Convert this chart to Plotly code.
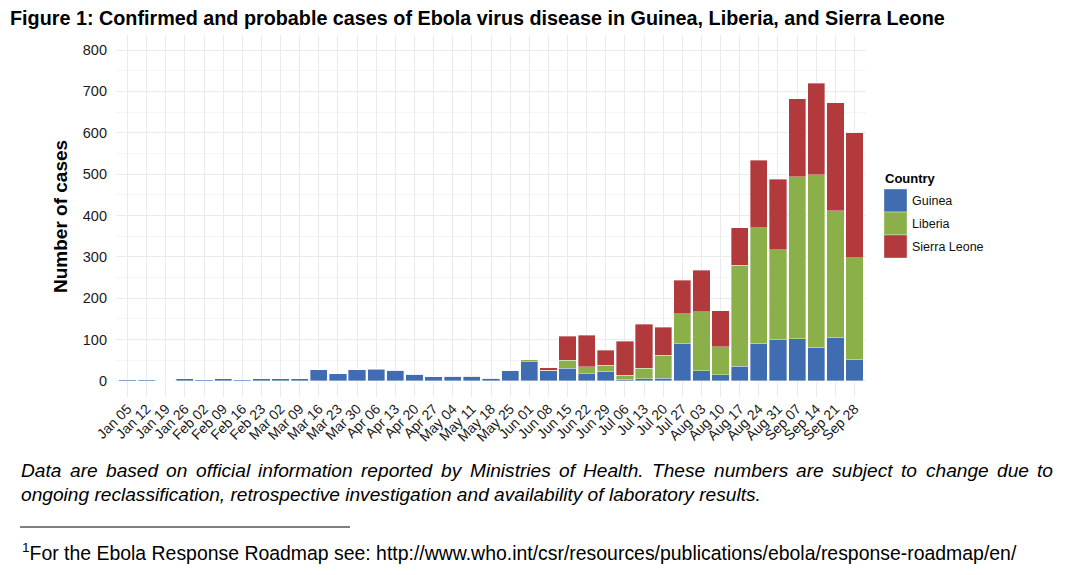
import plotly.graph_objects as go

weeks = ["Jan 05", "Jan 12", "Jan 19", "Jan 26", "Feb 02", "Feb 09", "Feb 16", "Feb 23",
         "Mar 02", "Mar 09", "Mar 16", "Mar 23", "Mar 30", "Apr 06", "Apr 13", "Apr 20",
         "Apr 27", "May 04", "May 11", "May 18", "May 25", "Jun 01", "Jun 08", "Jun 15",
         "Jun 22", "Jun 29", "Jul 06", "Jul 13", "Jul 20", "Jul 27", "Aug 03", "Aug 10",
         "Aug 17", "Aug 24", "Aug 31", "Sep 07", "Sep 14", "Sep 21", "Sep 28"]

guinea = [3, 3, 0, 5, 3, 5, 3, 5, 6, 6, 27, 17, 27, 27, 26, 16, 10, 11, 10, 7,
          25, 47, 25, 31, 17, 24, 4, 5, 7, 91, 25, 15, 36, 91, 100, 102, 81, 106, 53]
liberia = [0, 0, 0, 0, 0, 0, 0, 0, 0, 0, 0, 0, 0, 2, 0, 0, 0, 0, 2, 0,
           0, 4, 1, 19, 18, 14, 10, 26, 55, 72, 142, 68, 244, 279, 217, 392, 417, 305, 245]
sierra_leone = [0, 0, 0, 0, 0, 0, 0, 0, 0, 0, 0, 0, 0, 0, 0, 0, 0, 0, 0, 0,
                0, 0, 6, 58, 76, 36, 82, 106, 68, 81, 101, 87, 91, 163, 171, 188, 222, 261, 302]

countries = ["Guinea", "Liberia", "Sierra Leone"]
colors = ["#406DB1", "#8BB04A", "#B23A3C"]
series = [guinea, liberia, sierra_leone]
y_ticks = [0, 100, 200, 300, 400, 500, 600, 700, 800]
y_minor = [50, 150, 250, 350, 450, 550, 650, 750]

title_text = "Figure 1: Confirmed and probable cases of Ebola virus disease in Guinea, Liberia, and Sierra Leone"
caption1 = "Data are based on official information reported by Ministries of Health. These numbers are subject to change due to"
caption2 = "ongoing reclassification, retrospective investigation and availability of laboratory results."
footnote_sup = "1"
footnote = "For the Ebola Response Roadmap see: http://www.who.int/csr/resources/publications/ebola/response-roadmap/en/"

# Arial / Liberation Sans advance widths (per 1000 em) for text layout
REG = {' ': 278, ',': 278, '.': 278, '/': 278, ':': 278, '-': 333}
REG.update({d: 556 for d in "0123456789"})
REG.update(dict(A=667, B=667, C=722, D=722, E=667, F=611, G=778, H=722, I=278, J=500, K=667, L=556,
                M=833, N=722, O=778, P=667, Q=778, R=722, S=667, T=611, U=722, V=667, W=944, X=667,
                Y=667, Z=611, a=556, b=556, c=500, d=556, e=556, f=278, g=556, h=556, i=222, j=222,
                k=500, l=222, m=833, n=556, o=556, p=556, q=556, r=333, s=500, t=278, u=556, v=500,
                w=722, x=500, y=500, z=500))
BOLD = {' ': 278, ',': 278, '.': 278, ':': 333}
BOLD.update({d: 556 for d in "0123456789"})
BOLD.update(dict(A=722, B=722, C=722, D=722, E=667, F=611, G=778, H=722, I=278, L=611, S=667,
                 a=556, b=611, c=556, d=611, e=556, f=333, g=611, h=611, i=278, j=278, k=556, l=278,
                 m=889, n=611, o=611, p=611, q=611, r=389, s=556, t=333, u=611, v=556, w=778, x=556,
                 y=556, z=500))


def em_width(text, table):
    return sum(table.get(c, 600) for c in text) / 1000.0


OFF = 8  # page body margin
W, H = 1085 - OFF, 575 - OFF
L, T = 116 - OFF, 35 - OFF
PW, PH = 750, 362
R, B = W - L - PW, H - T - PH


def px(x):
    return (x - OFF - L) / PW


def py(y):
    return (H - B - (y - OFF)) / PH


fig = go.Figure()
for name, vals, col in zip(countries, series, colors):
    fig.add_trace(go.Bar(x=weeks, y=vals, name=name, marker_color=col,
                         marker_line=dict(color="rgba(255,255,255,0.6)", width=0.6),
                         width=0.9, showlegend=False))

shapes = []
annotations = []
SANS = "Liberation Sans, Arial"

# manual legend
annotations.append(dict(text="<b>Country</b>", x=px(883), y=py(178), xref="paper", yref="paper",
                        xanchor="left", yanchor="middle", showarrow=False,
                        font=dict(family=SANS, size=13, color="#000")))
for i, (name, col) in enumerate(zip(countries, colors)):
    y0 = 189 + i * 23
    shapes.append(dict(type="rect", xref="paper", yref="paper", x0=px(884), x1=px(907),
                       y0=py(y0 + 23), y1=py(y0), fillcolor=col,
                       line=dict(color="rgba(255,255,255,0.6)", width=0.6)))
    annotations.append(dict(text=name, x=px(910), y=py(y0 + 11.5), xref="paper", yref="paper",
                            xanchor="left", yanchor="middle", showarrow=False,
                            font=dict(family=SANS, size=12.5, color="#111")))

# y-axis title
annotations.append(dict(text="<b>Number of cases</b>", x=px(60), y=py(216), xref="paper", yref="paper",
                        textangle=-90, xanchor="center", yanchor="middle", showarrow=False,
                        font=dict(family=SANS, size=19, color="#000")))

# caption: justified first line, natural second line
cap_size = 740.0 / em_width(caption2, REG)
cap_font = dict(family=SANS, size=cap_size, color="#000")
words = caption1.split(" ")
ww = [em_width(w_, REG) * cap_size for w_ in words]
gap = (1052 - 20 - sum(ww)) / (len(words) - 1)
xpos = 20.0
for w_, wd in zip(words, ww):
    annotations.append(dict(text="<i>" + w_ + "</i>", x=px(xpos), y=py(470), xref="paper", yref="paper",
                            xanchor="left", yanchor="middle", showarrow=False, font=cap_font,
                            borderpad=0))
    xpos += wd + gap
annotations.append(dict(text="<i>" + caption2 + "</i>", x=px(20), y=py(494), xref="paper", yref="paper",
                        xanchor="left", yanchor="middle", showarrow=False, font=cap_font, borderpad=0))
shapes.append(dict(type="line", xref="paper", yref="paper", x0=px(20), x1=px(350),
                   y0=py(527), y1=py(527), line=dict(color="#000", width=1)))

foot_size = (1018 - 22) / (em_width(footnote, REG) + 0.7 * em_width(footnote_sup, REG))
annotations.append(dict(text="<sup>" + footnote_sup + "</sup>" + footnote, x=px(21), y=py(552),
                        xref="paper", yref="paper", xanchor="left", yanchor="middle", showarrow=False,
                        borderpad=0, font=dict(family=SANS, size=foot_size, color="#000")))

title_size = (945 - 10) / em_width(title_text, BOLD)

fig.update_layout(
    width=W, height=H,
    margin=dict(l=L, r=R, t=T, b=B, autoexpand=False),
    barmode="stack",
    paper_bgcolor="white",
    plot_bgcolor="white",
    title=dict(text="<b>" + title_text + "</b>", x=(10 - OFF) / W, xref="container", xanchor="left",
               y=1 - (18 - OFF) / H, yref="container", yanchor="middle",
               font=dict(family=SANS, size=title_size, color="#000")),
    shapes=shapes,
    annotations=annotations,
    xaxis=dict(type="category", range=[-0.6, 38.6], tickangle=-45, showgrid=True,
               gridcolor="#EBEBEB", gridwidth=1.3, showline=False, zeroline=False, ticks="",
               tickfont=dict(family=SANS, size=14, color="#1a1a1a")),
    yaxis=dict(range=[-38.7, 836.3], tickmode="array", tickvals=y_ticks,
               showgrid=True, gridcolor="#EBEBEB", gridwidth=1.3, zeroline=False, showline=False, ticks="",
               ticklabelstandoff=8,
               minor=dict(tickmode="array", tickvals=y_minor,
                          showgrid=True, gridcolor="#F5F5F5", gridwidth=1),
               tickfont=dict(family=SANS, size=14.5, color="#1a1a1a")),
)

fig.write_html("out.html")
